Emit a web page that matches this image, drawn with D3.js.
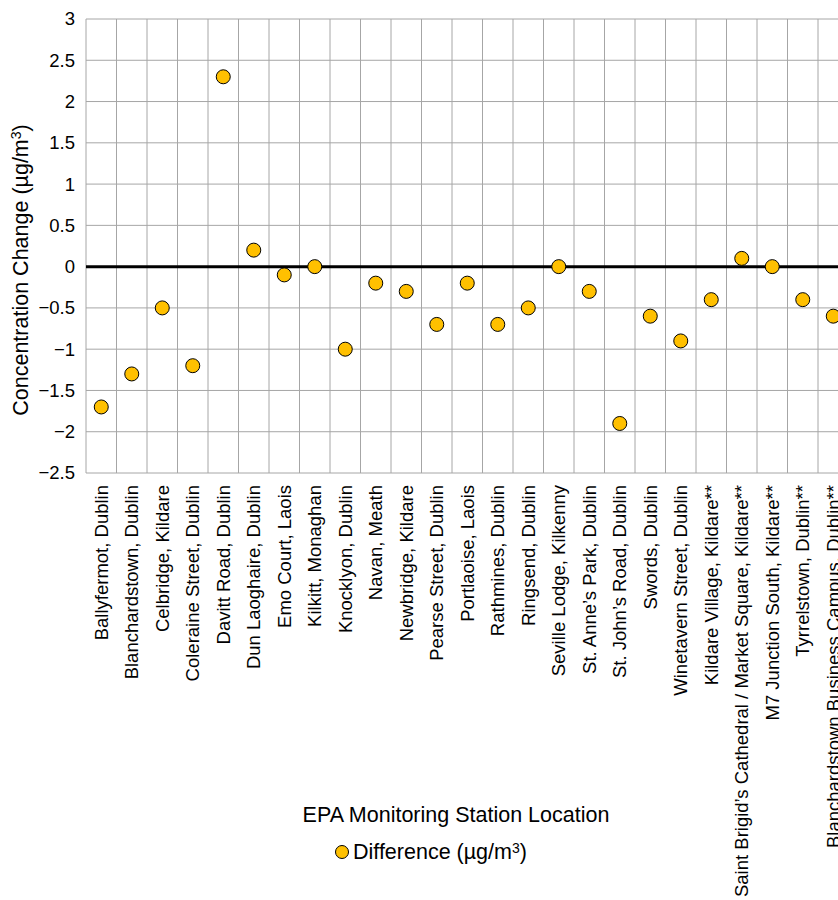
<!DOCTYPE html>
<html>
<head>
<meta charset="utf-8">
<script src="https://cdn.jsdelivr.net/npm/d3@7"></script>
<style>
  body { margin: 0; background: #fff; }
  svg { display: block; font-family: "Liberation Sans", Arial, sans-serif; }
</style>
</head>
<body>
<div id="chart"></div>
<script>
// station names along the x axis
var stations = [
  "Ballyfermot, Dublin", "Blanchardstown, Dublin", "Celbridge, Kildare",
  "Coleraine Street, Dublin", "Davitt Road, Dublin", "Dun Laoghaire, Dublin",
  "Emo Court, Laois", "Kilkitt, Monaghan", "Knocklyon, Dublin", "Navan, Meath",
  "Newbridge, Kildare", "Pearse Street, Dublin", "Portlaoise, Laois",
  "Rathmines, Dublin", "Ringsend, Dublin", "Seville Lodge, Kilkenny",
  "St. Anne\u2019s Park, Dublin", "St. John\u2019s Road, Dublin", "Swords, Dublin",
  "Winetavern Street, Dublin", "Kildare Village, Kildare**",
  "Saint Brigid\u2019s Cathedral / Market Square, Kildare**",
  "M7 Junction South, Kildare**", "Tyrrelstown, Dublin**",
  "Blanchardstown Business Campus, Dublin**"
];
// difference in concentration (ug/m3)
var difference = [
  -1.7, -1.3, -0.5, -1.2, 2.3, 0.2, -0.1, 0, -1.0, -0.2,
  -0.3, -0.7, -0.2, -0.7, -0.5, 0, -0.3, -1.9, -0.6, -0.9,
  -0.4, 0.1, 0, -0.4, -0.6
];
var yTicks = [3, 2.5, 2, 1.5, 1, 0.5, 0, -0.5, -1, -1.5, -2, -2.5];

var width = 838, height = 900;
var margin = {top: 19, left: 86};
var plotW = 762.5, plotH = 454;

var svg = d3.select("#chart").append("svg")
  .attr("width", width)
  .attr("height", height);

var x = d3.scaleBand().domain(stations).range([margin.left, margin.left + plotW]);
var y = d3.scaleLinear().domain([-2.5, 3]).range([margin.top + plotH, margin.top]);

// horizontal grid
svg.append("g").selectAll("line").data(yTicks).join("line")
  .attr("x1", margin.left).attr("x2", margin.left + plotW)
  .attr("y1", d => y(d)).attr("y2", d => y(d))
  .attr("stroke", "#a6a6a6").attr("stroke-width", 1);

// vertical grid at band edges
var edges = stations.map(d => x(d)).concat([x(stations[stations.length - 1]) + x.bandwidth()]);
svg.append("g").selectAll("line").data(edges).join("line")
  .attr("x1", d => d).attr("x2", d => d)
  .attr("y1", margin.top).attr("y2", margin.top + plotH)
  .attr("stroke", "#a6a6a6").attr("stroke-width", 1);

// zero line
svg.append("line")
  .attr("x1", margin.left).attr("x2", margin.left + plotW)
  .attr("y1", y(0)).attr("y2", y(0))
  .attr("stroke", "#000").attr("stroke-width", 3);

// y axis labels
var yAxis = d3.axisLeft(y).tickValues(yTicks).tickSize(0).tickPadding(11).tickFormat(d3.format(""));
var gy = svg.append("g").attr("transform", "translate(" + margin.left + ",0)").call(yAxis);
gy.select(".domain").remove();
gy.selectAll("text").attr("font-size", 18.5).attr("fill", "#000")
  .attr("font-family", "Liberation Sans, Arial, sans-serif");

// x axis labels (rotated)
var gx = svg.append("g");
gx.selectAll("text").data(stations).join("text")
  .attr("transform", d => "translate(" + (x(d) + x.bandwidth() / 2) + "," + (margin.top + plotH + 12) + ") rotate(-90)")
  .attr("text-anchor", "end")
  .attr("dy", "0.35em")
  .attr("font-size", 18.5)
  .text(d => d);

// points
svg.append("g").selectAll("circle").data(difference).join("circle")
  .attr("cx", (d, i) => x(stations[i]) + x.bandwidth() / 2)
  .attr("cy", d => y(d))
  .attr("r", 7)
  .attr("fill", "#ffc000")
  .attr("stroke", "#000").attr("stroke-width", 1);

// y title
var yt = svg.append("text")
  .attr("transform", "translate(28," + 270 + ") rotate(-90)")
  .attr("text-anchor", "middle")
  .attr("font-size", 21.5);
yt.append("tspan").text("Concentration Change (\u00b5g/m");
yt.append("tspan").attr("font-size", 14).attr("dy", -7).text("3");
yt.append("tspan").attr("dy", 7).text(")");

// x title
svg.append("text")
  .attr("x", 456).attr("y", 822)
  .attr("text-anchor", "middle")
  .attr("font-size", 21.5)
  .text("EPA Monitoring Station Location");

// legend
svg.append("circle")
  .attr("cx", 342).attr("cy", 852).attr("r", 6.5)
  .attr("fill", "#ffc000").attr("stroke", "#000").attr("stroke-width", 1);
var lg = svg.append("text").attr("x", 353).attr("y", 859).attr("font-size", 21.5);
lg.append("tspan").text("Difference (\u00b5g/m");
lg.append("tspan").attr("font-size", 14).attr("dy", -6).text("3");
lg.append("tspan").attr("dy", 6).text(")");
</script>
</body>
</html>
